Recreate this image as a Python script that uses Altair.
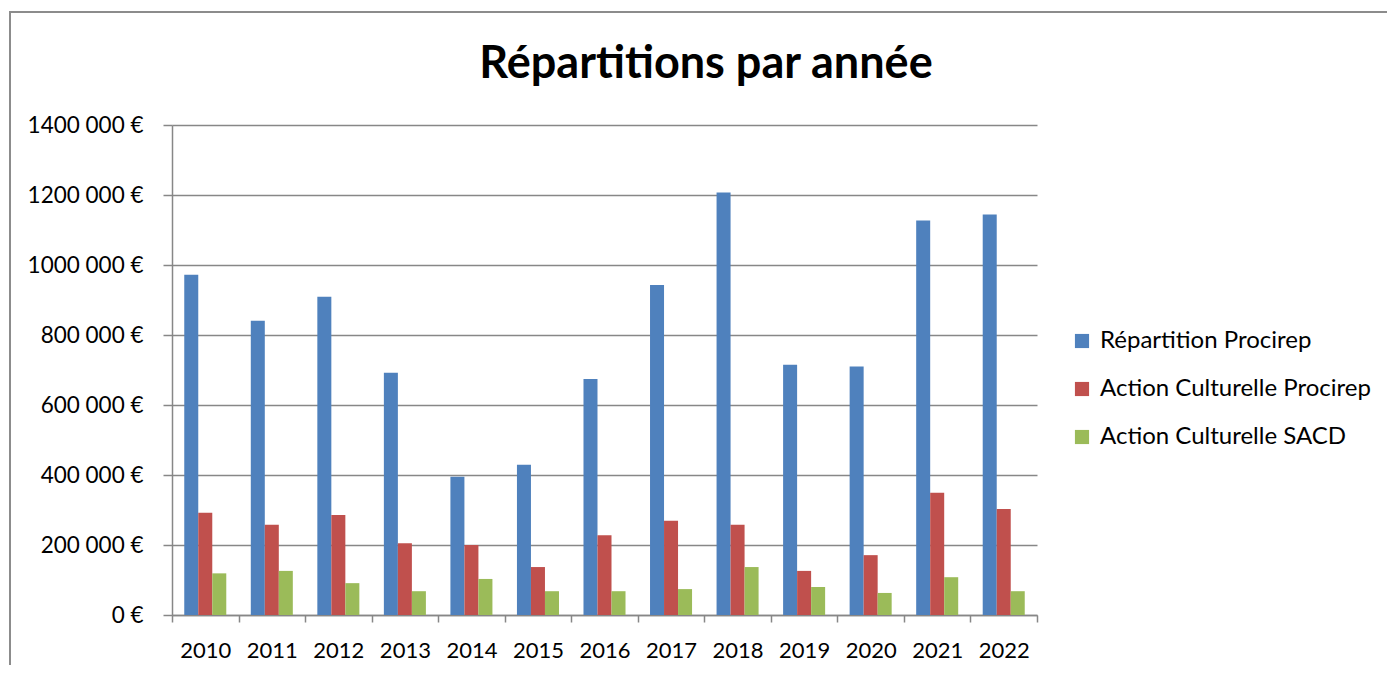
import altair as alt
import pandas as pd

years = ["2010", "2011", "2012", "2013", "2014", "2015", "2016", "2017", "2018", "2019", "2020", "2021", "2022"]
series = ["Répartition Procirep", "Action Culturelle Procirep", "Action Culturelle SACD"]
repartition_procirep = [972000, 841000, 909000, 692000, 395000, 429000, 674000, 943000, 1207000, 715000, 710000, 1127000, 1144000]
action_culturelle_procirep = [292000, 258000, 286000, 205000, 200000, 137000, 228000, 269000, 258000, 126000, 171000, 349000, 303000]
action_culturelle_sacd = [119000, 126000, 91000, 68000, 103000, 68000, 68000, 74000, 137000, 80000, 63000, 108000, 68000]
colors = ["#4F81BD", "#C0504D", "#9BBB59"]
y_ticks = [0, 200000, 400000, 600000, 800000, 1000000, 1200000, 1400000]
chart_title = "Répartitions par année"

rows = []
for s, vals in zip(series, [repartition_procirep, action_culturelle_procirep, action_culturelle_sacd]):
    for yr, v in zip(years, vals):
        rows.append({"Année": yr, "Série": s, "Montant": v})
df = pd.DataFrame(rows)

FONT = "Lato"
GRID = "#878787"

bars = alt.Chart(df).mark_bar().encode(
    x=alt.X("Année:N", sort=years, title=None,
            scale=alt.Scale(paddingInner=0, paddingOuter=0),
            axis=alt.Axis(labelAngle=0, tickBand="extent", tickSize=7, tickColor=GRID,
                          domainColor=GRID, domainWidth=1.5, tickWidth=1.5,
                          labelFontSize=22, labelFont=FONT, labelColor="#000000",
                          labelPadding=18)),
    xOffset=alt.XOffset("Série:N", sort=series,
                        scale=alt.Scale(paddingInner=0, paddingOuter=0.875)),
    y=alt.Y("Montant:Q", title=None,
            scale=alt.Scale(domain=[0, 1400000]),
            axis=alt.Axis(values=y_ticks, grid=True, gridColor=GRID, gridWidth=1.5,
                          tickSize=9, tickColor=GRID, tickWidth=1.5,
                          domainColor=GRID, domainWidth=1.5,
                          labelFontSize=22.5, labelFont=FONT, labelColor="#000000",
                          labelPadding=20,
                          labelExpr="datum.value == 0 ? '0 €' : format(datum.value / 1000, 'd') + ' 000 €'")),
    color=alt.Color("Série:N", sort=series,
                    scale=alt.Scale(domain=series, range=colors),
                    legend=alt.Legend(title=None, orient="none", legendX=898, legendY=204,
                                      symbolType="square", symbolSize=200, symbolStrokeWidth=0,
                                      labelFontSize=24, labelFont=FONT, labelColor="#000000",
                                      labelLimit=0, rowPadding=24, labelOffset=6)),
)

frame = alt.Chart(pd.DataFrame({"a": [0]})).mark_rect(
    filled=False, stroke="#8c8c8c", strokeWidth=2, clip=False
).encode(
    x=alt.value(-162), x2=alt.value(1240), y=alt.value(-113), y2=alt.value(620)
)

title_text = alt.Chart(pd.DataFrame({"t": [chart_title]})).mark_text(
    font=FONT, fontSize=45, fontWeight="bold", color="#000000",
    align="center", baseline="alphabetic", clip=False
).encode(
    text="t:N", x=alt.value(534), y=alt.value(-47)
)

chart = alt.layer(frame, bars, title_text).properties(
    width=865, height=490,
    autosize=alt.AutoSizeParams(type="none"),
    padding={"left": 164, "top": 117, "right": 350, "bottom": 50},
).configure_view(stroke=None)

chart.save("out.html", embed_options={"renderer": "svg", "actions": False})
